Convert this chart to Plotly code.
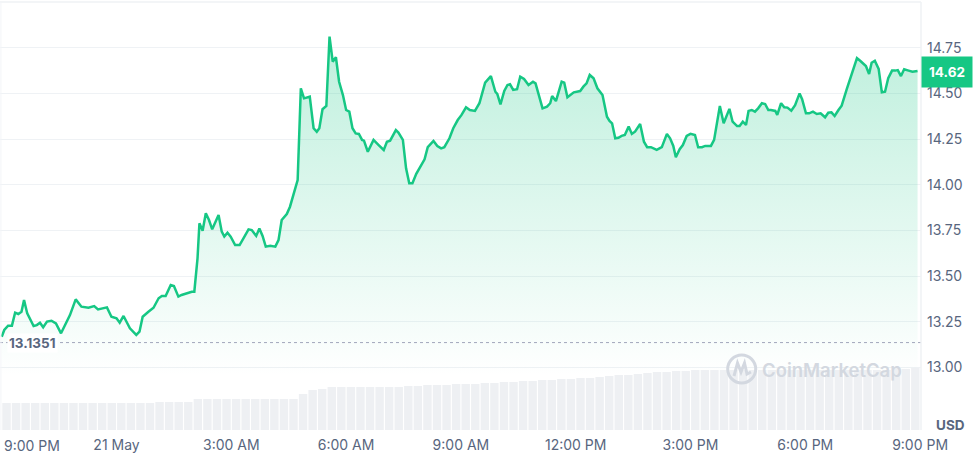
import pandas as pd
import plotly.graph_objects as go

# ---- data ----
start_time = "2024-05-20 21:00"
minutes = [0, 4, 10, 16, 21, 26, 31, 35, 40, 50, 55, 60, 65, 71, 78, 85, 93, 99, 107, 116,
           125, 136, 145, 151, 159, 165, 172, 180, 185, 191, 201, 211, 216, 221, 230, 238, 246, 251, 257, 265,
           270, 277, 282, 290, 298, 302, 307, 310, 315, 320, 325, 330, 340, 345, 349, 354, 359, 366, 373, 379,
           387, 392, 399, 404, 409, 414, 421, 429, 434, 439, 447, 452, 458, 464, 469, 474, 483, 489, 494, 498,
           503, 509, 514, 519, 524, 529, 535, 540, 545, 550, 555, 560, 565, 568, 574, 583, 591, 599, 604, 609,
           618, 622, 629, 634, 639, 644, 650, 656, 663, 668, 677, 683, 689, 694, 702, 708, 715, 721, 728, 734,
           742, 749, 758, 767, 774, 777, 782, 788, 793, 797, 802, 808, 813, 819, 826, 833, 837, 848, 855, 860,
           863, 869, 878, 882, 887, 897, 907, 912, 917, 922, 928, 934, 942, 949, 953, 957, 962, 967, 972, 977,
           983, 988, 993, 1001, 1007, 1012, 1018, 1027, 1035, 1043, 1048, 1053, 1057, 1063, 1068, 1074, 1080, 1087, 1092, 1098,
           1103, 1112, 1117, 1126, 1132, 1141, 1146, 1153, 1157, 1162, 1167, 1171, 1176, 1181, 1186, 1192, 1197, 1202, 1206, 1213,
           1216, 1222, 1227, 1232, 1238, 1244, 1251, 1255, 1261, 1266, 1272, 1278, 1284, 1291, 1296, 1301, 1306, 1312, 1317, 1325,
           1329, 1335, 1341, 1346, 1350, 1355, 1360, 1364, 1369, 1375, 1380, 1385, 1390, 1396, 1401, 1405, 1410, 1415, 1422, 1428,
           1436]
price = [13.167, 13.204, 13.228, 13.228, 13.299, 13.292, 13.304, 13.368, 13.295, 13.226, 13.231, 13.244, 13.219, 13.250, 13.255, 13.240, 13.186, 13.231, 13.286, 13.372,
         13.332, 13.326, 13.335, 13.317, 13.323, 13.328, 13.277, 13.268, 13.244, 13.281, 13.213, 13.177, 13.195, 13.277, 13.304, 13.326, 13.378, 13.390, 13.390, 13.451,
         13.445, 13.387, 13.396, 13.405, 13.414, 13.414, 13.597, 13.789, 13.748, 13.844, 13.807, 13.756, 13.834, 13.743, 13.716, 13.737, 13.716, 13.670, 13.670, 13.707,
         13.756, 13.752, 13.720, 13.761, 13.720, 13.661, 13.666, 13.661, 13.697, 13.807, 13.840, 13.880, 13.953, 14.026, 14.529, 14.474, 14.483, 14.310, 14.291, 14.310,
         14.414, 14.432, 14.812, 14.675, 14.699, 14.565, 14.492, 14.410, 14.401, 14.310, 14.282, 14.279, 14.246, 14.242, 14.181, 14.246, 14.218, 14.191, 14.236, 14.242,
         14.300, 14.286, 14.246, 14.090, 14.008, 14.008, 14.060, 14.096, 14.140, 14.206, 14.240, 14.213, 14.200, 14.206, 14.255, 14.310, 14.355, 14.383, 14.425, 14.410,
         14.405, 14.447, 14.560, 14.596, 14.510, 14.498, 14.441, 14.514, 14.547, 14.551, 14.520, 14.524, 14.593, 14.580, 14.547, 14.565, 14.556, 14.419, 14.428, 14.447,
         14.487, 14.459, 14.565, 14.560, 14.480, 14.507, 14.514, 14.538, 14.556, 14.602, 14.584, 14.529, 14.492, 14.373, 14.350, 14.337, 14.255, 14.258, 14.268, 14.273,
         14.319, 14.279, 14.291, 14.333, 14.236, 14.206, 14.206, 14.191, 14.206, 14.279, 14.255, 14.213, 14.151, 14.195, 14.218, 14.268, 14.279, 14.273, 14.206, 14.206,
         14.213, 14.213, 14.246, 14.432, 14.337, 14.416, 14.346, 14.322, 14.322, 14.346, 14.328, 14.405, 14.410, 14.401, 14.419, 14.447, 14.443, 14.410, 14.410, 14.405,
         14.383, 14.447, 14.425, 14.423, 14.406, 14.437, 14.501, 14.469, 14.392, 14.392, 14.401, 14.388, 14.392, 14.370, 14.395, 14.397, 14.377, 14.410, 14.434, 14.524,
         14.565, 14.639, 14.694, 14.680, 14.669, 14.651, 14.607, 14.669, 14.680, 14.635, 14.507, 14.510, 14.584, 14.626, 14.626, 14.629, 14.596, 14.633, 14.626, 14.620,
         14.624]

# volume bars, one per 15 minutes (relative units)
volume = ([2.7] * 16 + [2.8] * 4 + [3.1] * 11 + [3.6, 4.0, 4.1] + [4.3] * 8 +
          [4.4, 4.4, 4.5, 4.5, 4.5, 4.6, 4.6, 4.6, 4.7, 4.7] +
          [4.8, 4.8, 4.9, 4.9, 5.0, 5.0, 5.1, 5.1, 5.2, 5.2] +
          [5.3, 5.4, 5.5, 5.5, 5.6, 5.7] + [5.8, 5.8, 5.9, 5.9, 6.0] +
          [6.0] * 20 + [6.2, 6.1, 6.2])
volume_step_min = 15

reference_price = 13.1351
last_price = 14.62
y_ticks = [13.00, 13.25, 13.50, 13.75, 14.00, 14.25, 14.50, 14.75]
x_tick_hours = [3, 6, 9, 12, 15, 18, 21, 24]
x_tick_text = ["21 May", "3:00 AM", "6:00 AM", "9:00 AM", "12:00 PM", "3:00 PM", "6:00 PM", "9:00 PM"]
first_label = "9:00 PM"

# ---- styling ----
GREEN = "#16c784"
TXT = "#58667e"
GRID = "#eff2f5"
FONT = "Inter"

t0 = pd.Timestamp(start_time)
times = [t0 + pd.Timedelta(minutes=m) for m in minutes]
vol_times = [t0 + pd.Timedelta(minutes=(i + 0.5) * volume_step_min) for i in range(len(volume))]

fig = go.Figure()
fig.add_trace(go.Scatter(
    x=times, y=price, mode="lines",
    line=dict(color=GREEN, width=2.5),
    fill="tozeroy",
    fillgradient=dict(type="vertical",
                      colorscale=[[0, "rgba(22,199,132,0.0)"], [1, "rgba(22,199,132,0.28)"]],
                      start=12.95, stop=14.81),
    hoverinfo="skip", showlegend=False,
))
fig.add_trace(go.Bar(
    x=vol_times, y=volume, yaxis="y2",
    marker=dict(color="#eef0f3", line=dict(width=0)),
    hoverinfo="skip", showlegend=False,
))

x_start = t0 - pd.Timedelta(minutes=2.7)
x_end = t0 + pd.Timedelta(minutes=1441.4)

fig.update_layout(
    width=978, height=458,
    margin=dict(l=0, r=57, t=2, b=28),
    paper_bgcolor="white", plot_bgcolor="white",
    font=dict(family=FONT, color=TXT, size=14),
    bargap=0.12,
    xaxis=dict(range=[x_start, x_end], showgrid=False, zeroline=False, showline=False,
               tickvals=[t0 + pd.Timedelta(hours=h) for h in x_tick_hours],
               ticktext=x_tick_text, ticks="", tickfont=dict(size=14, color=TXT),
               ticklabelstandoff=5),
    yaxis=dict(range=[12.656, 15.002], side="right", tickvals=y_ticks,
               ticktext=[f"{v:.2f}" for v in y_ticks], ticks="",
               showgrid=True, gridcolor=GRID, gridwidth=1, zeroline=False,
               tickfont=dict(size=14, color=TXT), ticklabelstandoff=5),
    yaxis2=dict(range=[0, 42.8], overlaying="y", visible=False),
    hovermode=False,
)

shapes = [
    dict(type="line", xref="paper", yref="y", x0=0, x1=1, y0=reference_price, y1=reference_price,
         line=dict(color="#a1a7bb", width=1, dash="dot")),
    dict(type="line", xref="paper", yref="paper", x0=0, x1=1, y0=1, y1=1,
         line=dict(color=GRID, width=1.5)),
    dict(type="line", xref="paper", yref="paper", x0=1, x1=1, y0=0, y1=1,
         line=dict(color=GRID, width=1.5)),
    dict(type="line", xref="paper", yref="paper", x0=0.001, x1=0.001, y0=0, y1=1,
         line=dict(color="#f3f5f8", width=1)),
    # watermark logo
    dict(type="circle", xref="paper", yref="paper",
         x0=727.7 / 921, x1=755.7 / 921, y0=(430 - 383) / 428, y1=(430 - 355) / 428,
         line=dict(color="#d3d8e0", width=3)),
    dict(type="path", xref="paper", yref="paper",
         path=" ".join([
             f"M {734/921} {(430-376)/428}",
             f"L {737.5/921} {(430-363)/428}",
             f"L {741/921} {(430-372)/428}",
             f"L {744.5/921} {(430-363)/428}",
             f"L {747/921} {(430-374)/428}",
             f"L {751/921} {(430-372)/428}",
         ]),
         line=dict(color="#d3d8e0", width=3)),
]
fig.update_layout(shapes=shapes)

annotations = [
    dict(xref="paper", yref="y", x=0.008, y=reference_price, text=f"<b>{reference_price}</b>",
         showarrow=False, xanchor="left", yanchor="middle", bgcolor="white",
         font=dict(size=13.5, color=TXT, family=FONT), borderpad=1),
    dict(xref="paper", yref="y", x=1, y=last_price, text=f"<b>{last_price:.2f}</b>",
         showarrow=False, xanchor="left", yanchor="middle", bgcolor=GREEN,
         font=dict(size=13.5, color="white", family=FONT), borderpad=6, width=38, height=18),
    dict(xref="paper", yref="paper", x=0.002, y=0, yshift=-5, text=first_label,
         showarrow=False, xanchor="left", yanchor="top",
         font=dict(size=14, color=TXT, family=FONT)),
    dict(xref="paper", yref="paper", x=1, y=0, xshift=13, yshift=-5, text="<b>USD</b>",
         showarrow=False, xanchor="left", yanchor="bottom",
         font=dict(size=13.5, color=TXT, family=FONT)),
    dict(xref="paper", yref="paper", x=760 / 921, y=(430 - 370) / 428, text="CoinMarketCap",
         showarrow=False, xanchor="left", yanchor="middle",
         font=dict(size=18.5, color="#d3d8e0", family=FONT, weight=600)),
]
fig.update_layout(annotations=annotations)

fig.write_html("out.html", config={"displayModeBar": False},
               post_script="document.body.style.margin='0';document.body.style.padding='0';")
